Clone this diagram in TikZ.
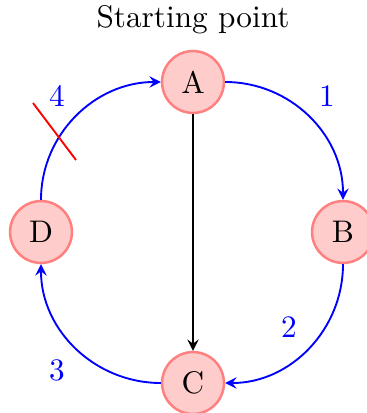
\documentclass[tikz,border=0pt]{standalone}
\usetikzlibrary{arrows}
\begin{document}
\begin{tikzpicture}[x=0.32pt,y=-0.32pt,
  state/.style={circle,draw=red!50,fill=red!20,thick,minimum size=19.8pt,inner sep=0pt},
  flow/.style={blue,semithick,-stealth},
  num/.style={blue}]
\useasboundingbox (0,0) rectangle (366,413);
\node (title) at (193,20) {Starting point};
\node[state] (A) at (193,82) {A};
\node[state] (B) at (343,232) {B};
\node[state] (C) at (193,383) {C};
\node[state] (D) at (41,232) {D};
\draw[flow] (A.east) to[out=0,in=90] (B.north);
\draw[flow] (B.south) to[out=-90,in=0] (C.east);
\draw[flow] (C.west) to[out=180,in=-90] (D.south);
\draw[flow] (D.north) to[out=90,in=180] (A.west);
\draw[semithick,-stealth] (A) -- (C);
\node[num] (n1) at (327,96) {1};
\node[num] (n2) at (289,327) {2};
\node[num] (n3) at (57,370) {3};
\node[num] (n4) at (57,96) {4};
\coordinate (x1) at (33,103);
\coordinate (x2) at (76,160);
\draw[red,semithick] (x1) -- (x2);
\end{tikzpicture}
\end{document}
